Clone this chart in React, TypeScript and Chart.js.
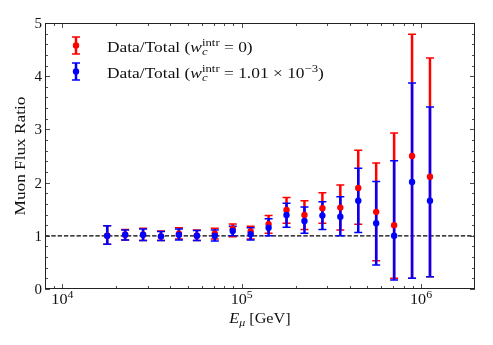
import React, { useEffect, useRef } from "react";
import { Chart, registerables } from "chart.js";

Chart.register(...registerables);

const energies = [17783, 22387, 28184, 35481, 44668, 56234, 70795, 89125, 112202, 141254, 177828, 223872, 281838, 354813, 446684, 562341, 707946, 891251, 1122018];

const redRatio = [1.0, 1.02, 1.02, 0.99, 1.04, 1.0, 1.04, 1.13, 1.08, 1.22, 1.485, 1.39, 1.52, 1.53, 1.9, 1.45, 1.2, 2.5, 2.11];
const redLow = [0.84, 0.92, 0.91, 0.91, 0.94, 0.91, 0.94, 0.98, 0.94, 1.05, 1.235, 1.12, 1.235, 1.11, 1.215, 0.53, 0.2, 0.2, 0.23];
const redHigh = [1.19, 1.12, 1.14, 1.09, 1.15, 1.11, 1.14, 1.22, 1.18, 1.38, 1.72, 1.66, 1.81, 1.955, 2.61, 2.37, 2.93, 4.79, 4.34];

const blueRatio = [1.0, 1.02, 1.02, 0.99, 1.02, 1.0, 1.0, 1.09, 1.03, 1.15, 1.39, 1.28, 1.38, 1.36, 1.66, 1.235, 1.0, 2.01, 1.66];
const blueLow = [0.84, 0.92, 0.91, 0.91, 0.92, 0.91, 0.9, 1.0, 0.92, 1.0, 1.16, 1.05, 1.12, 1.0, 1.06, 0.45, 0.17, 0.2, 0.23];
const blueHigh = [1.19, 1.11, 1.13, 1.08, 1.13, 1.1, 1.11, 1.18, 1.15, 1.32, 1.61, 1.54, 1.64, 1.735, 2.27, 2.02, 2.41, 3.87, 3.42];

const yTicks = [0, 1, 2, 3, 4, 5];
const xMajorExps = [4, 5, 6];
const X_MIN = 8000;
const X_MAX = 2000000;
const REF_LINE = 1;

const RED = "#ff0000";
const BLUE = "#0000ff";
const SERIF = "'Liberation Serif', 'DejaVu Serif', serif";
const FS = 15;

type Part = { t: string; italic?: boolean; small?: boolean; dy?: number; stackSub?: string };

function drawRich(
  ctx: CanvasRenderingContext2D,
  parts: Part[],
  x: number,
  y: number,
  align: "left" | "center" = "left",
  sx = 1
) {
  const fontFor = (p: { italic?: boolean; small?: boolean }) =>
    `${p.italic ? "italic " : ""}${p.small ? Math.round(FS * 0.7) : FS}px ${SERIF}`;
  const widths: number[] = parts.map((p) => {
    ctx.font = fontFor(p);
    let w = ctx.measureText(p.t).width;
    if (p.stackSub) {
      ctx.font = `italic ${Math.round(FS * 0.7)}px ${SERIF}`;
      w = Math.max(w, ctx.measureText(p.stackSub).width);
    }
    return w;
  });
  const total = widths.reduce((a, b) => a + b, 0);
  const startX = align === "center" ? x - (total * sx) / 2 : x;
  ctx.save();
  ctx.translate(startX, y);
  ctx.scale(sx, 1);
  ctx.textAlign = "left";
  ctx.textBaseline = "alphabetic";
  let cx = 0;
  parts.forEach((p, i) => {
    ctx.font = fontFor(p);
    ctx.fillText(p.t, cx, p.dy || 0);
    if (p.stackSub) {
      ctx.font = `italic ${Math.round(FS * 0.7)}px ${SERIF}`;
      ctx.fillText(p.stackSub, cx, 3.5);
    }
    cx += widths[i];
  });
  ctx.restore();
  return total * sx;
}

const overlayPlugin = {
  id: "overlay",
  beforeDatasetsDraw(chart: any) {
    const { ctx, chartArea: a, scales } = chart;
    const xs = scales.x;
    const ys = scales.y;
    ctx.save();
    ctx.strokeStyle = "#000";
    ctx.lineWidth = 1.2;
    ctx.setLineDash([4.4, 1.9]);
    const yr = ys.getPixelForValue(REF_LINE);
    ctx.beginPath();
    ctx.moveTo(a.left, yr);
    ctx.lineTo(a.right, yr);
    ctx.stroke();
    ctx.setLineDash([]);
    const drawBars = (lo: number[], hi: number[], color: string) => {
      ctx.strokeStyle = color;
      energies.forEach((e, i) => {
        const px = xs.getPixelForValue(e);
        const y1 = ys.getPixelForValue(lo[i]);
        const y2 = ys.getPixelForValue(hi[i]);
        ctx.lineWidth = 2.5;
        ctx.beginPath();
        ctx.moveTo(px, y1);
        ctx.lineTo(px, y2);
        ctx.stroke();
        ctx.lineWidth = 1.5;
        ctx.beginPath();
        ctx.moveTo(px - 4, y1);
        ctx.lineTo(px + 4, y1);
        ctx.moveTo(px - 4, y2);
        ctx.lineTo(px + 4, y2);
        ctx.stroke();
      });
    };
    drawBars(redLow, redHigh, RED);
    drawBars(blueLow, blueHigh, BLUE);
    ctx.restore();
  },
  afterDraw(chart: any) {
    const { ctx, chartArea: a, scales } = chart;
    const xs = scales.x;
    const ys = scales.y;
    ctx.save();
    ctx.strokeStyle = "#222";
    ctx.lineWidth = 1;
    ctx.strokeRect(a.left + 0.5, a.top + 0.5, a.right - a.left - 1, a.bottom - a.top - 1);
    ctx.lineWidth = 0.8;
    ctx.beginPath();
    for (let ex = 3; ex <= 6; ex++) {
      for (let m = 1; m <= 9; m++) {
        const v = m * Math.pow(10, ex);
        if (v <= X_MIN || v >= X_MAX) continue;
        const px = Math.round(xs.getPixelForValue(v)) + 0.5;
        const len = m === 1 ? 5 : 3;
        ctx.moveTo(px, a.bottom);
        ctx.lineTo(px, a.bottom - len);
        ctx.moveTo(px, a.top);
        ctx.lineTo(px, a.top + len);
      }
    }
    for (let k = 0; k <= 25; k++) {
      const v = k * 0.2;
      const py = Math.round(ys.getPixelForValue(v)) + 0.5;
      const len = k % 5 === 0 ? 5 : 3;
      ctx.moveTo(a.left, py);
      ctx.lineTo(a.left + len, py);
      ctx.moveTo(a.right, py);
      ctx.lineTo(a.right - len, py);
    }
    ctx.stroke();

    ctx.fillStyle = "#111";
    ctx.font = `${FS}px ${SERIF}`;
    ctx.textAlign = "right";
    ctx.textBaseline = "middle";
    yTicks.forEach((t) => {
      ctx.fillText(String(t), a.left - 3, ys.getPixelForValue(t) + 1);
    });
    xMajorExps.forEach((ex) => {
      const px = xs.getPixelForValue(Math.pow(10, ex));
      drawRich(ctx, [{ t: "10" }, { t: String(ex), small: true, dy: -6 }], px, a.bottom + 14.5, "center", 1.08);
    });
    drawRich(
      ctx,
      [{ t: "E", italic: true }, { t: "μ", italic: true, small: true, dy: 3.5 }, { t: " [GeV]" }],
      (a.left + a.right) / 2,
      322.5,
      "center",
      1.08
    );
    ctx.save();
    ctx.translate(21, (a.top + a.bottom) / 2);
    ctx.rotate(-Math.PI / 2);
    ctx.scale(1.15, 1);
    ctx.font = `${FS}px ${SERIF}`;
    ctx.textAlign = "center";
    ctx.textBaseline = "middle";
    ctx.fillText("Muon Flux Ratio", 0, 0);
    ctx.restore();

    const drawIcon = (cx: number, cy: number, color: string) => {
      ctx.strokeStyle = color;
      ctx.fillStyle = color;
      ctx.lineWidth = 2.5;
      ctx.beginPath();
      ctx.moveTo(cx, cy - 8.5);
      ctx.lineTo(cx, cy + 8.5);
      ctx.stroke();
      ctx.lineWidth = 1.5;
      ctx.beginPath();
      ctx.moveTo(cx - 4, cy - 8.5);
      ctx.lineTo(cx + 4, cy - 8.5);
      ctx.moveTo(cx - 4, cy + 8.5);
      ctx.lineTo(cx + 4, cy + 8.5);
      ctx.stroke();
      ctx.beginPath();
      ctx.arc(cx, cy, 3.2, 0, Math.PI * 2);
      ctx.fill();
    };
    drawIcon(76, 45.5, RED);
    drawIcon(76, 71.5, BLUE);
    ctx.fillStyle = "#111";
    drawRich(
      ctx,
      [
        { t: "Data/Total (" },
        { t: "w", italic: true },
        { t: "intr", small: true, dy: -6, stackSub: "c" },
        { t: " = 0)" },
      ],
      107,
      51.5,
      "left",
      1.16
    );
    drawRich(
      ctx,
      [
        { t: "Data/Total (" },
        { t: "w", italic: true },
        { t: "intr", small: true, dy: -6, stackSub: "c" },
        { t: " = 1.01 × 10" },
        { t: "−3", small: true, dy: -6 },
        { t: ")" },
      ],
      107,
      77.5,
      "left",
      1.16
    );
    ctx.restore();
  },
};

export default function App() {
  const ref = useRef<HTMLCanvasElement | null>(null);
  useEffect(() => {
    document.body.style.margin = "0";
    const chart = new Chart(ref.current as HTMLCanvasElement, {
      type: "scatter",
      data: {
        datasets: [
          {
            label: "Data/Total (w_c^intr = 0)",
            data: energies.map((e, i) => ({ x: e, y: redRatio[i] })),
            backgroundColor: RED,
            borderWidth: 0,
            pointRadius: 3.2,
            order: 2,
          },
          {
            label: "Data/Total (w_c^intr = 1.01e-3)",
            data: energies.map((e, i) => ({ x: e, y: blueRatio[i] })),
            backgroundColor: BLUE,
            borderWidth: 0,
            pointRadius: 3.2,
            order: 1,
          },
        ],
      },
      options: {
        responsive: false,
        animation: false,
        devicePixelRatio: 1,
        layout: { padding: { left: 45, right: 18, top: 23, bottom: 56 } },
        plugins: { legend: { display: false }, tooltip: { enabled: false } },
        scales: {
          x: { type: "logarithmic", min: X_MIN, max: X_MAX, display: false },
          y: { type: "linear", min: 0, max: 5, display: false },
        },
      },
      plugins: [overlayPlugin],
    });
    return () => chart.destroy();
  }, []);
  return (
    <div style={{ position: "absolute", left: 0, top: 0, width: 493, height: 345, background: "#fff" }}>
      <canvas ref={ref} width={493} height={345} />
    </div>
  );
}
